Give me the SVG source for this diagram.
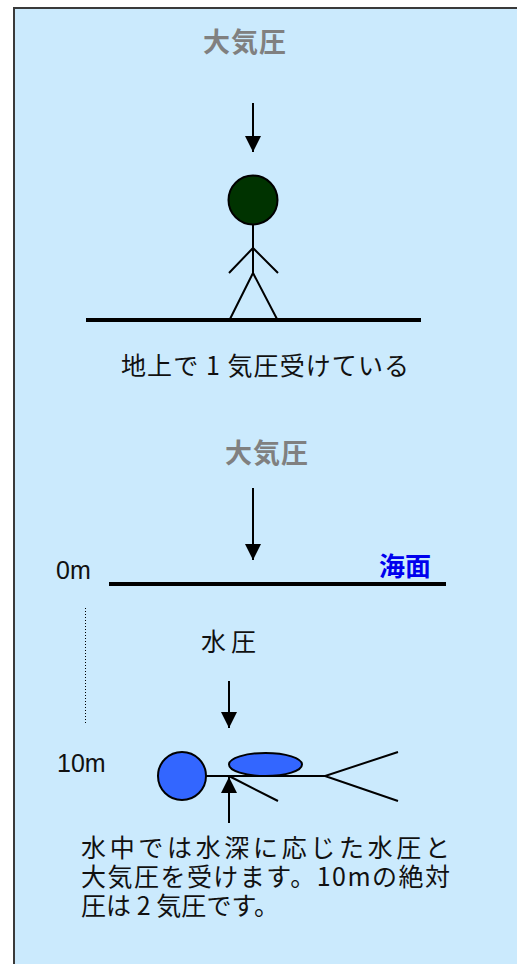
<svg xmlns="http://www.w3.org/2000/svg" width="517" height="964" viewBox="0 0 517 964">
  <defs>
    <marker id="head" viewBox="0 0 16 16" refX="16" refY="8" markerWidth="16" markerHeight="16" markerUnits="userSpaceOnUse" orient="auto">
      <path d="M0,0 L16,8 L0,16 Z" fill="#000"/>
    </marker>
    <style>
      .jp { font-family: "Noto Sans CJK JP", "Liberation Sans", sans-serif; }
      .title { font-size: 27px; font-weight: bold; fill: #808080; letter-spacing: 1px; }
      .body { font-size: 25px; fill: #111; }
      .depth { font-family: "Liberation Sans", "Noto Sans CJK JP", sans-serif; font-size: 25px; fill: #111; }
      .sea { font-size: 26px; font-weight: bold; fill: #0000ee; }
      .arrow { stroke: #000; stroke-width: 2; fill: none; marker-end: url(#head); }
      .limb { stroke: #000; stroke-width: 2; fill: none; }
      .ground { stroke: #000; stroke-width: 4; }
    </style>
  </defs>

  <!-- panel -->
  <rect x="0" y="0" width="517" height="964" fill="#ffffff"/>
  <rect x="14" y="8" width="504" height="970" fill="#cbeafd" stroke="#3a3a3a" stroke-width="2"/>

  <!-- upper scene: person on the ground -->
  <g id="air-label-top">
    <text class="jp title" x="203" y="52">大気圧</text>
  </g>
  <g id="ground">
    <line class="ground" x1="86" y1="320" x2="421" y2="320"/>
  </g>
  <g id="person">
    <circle cx="253" cy="200" r="24.5" fill="#003300" stroke="#000" stroke-width="2"/>
    <path class="limb" d="M253,225 V273 M229,273 L253,248 L278,273 M230,319 L253,273 L277,319"/>
  </g>
  <g id="ground-caption">
    <text class="jp body" x="121" y="375" textLength="288" lengthAdjust="spacing">地上で 1 気圧受けている</text>
  </g>

  <!-- lower scene: diver under the sea surface -->
  <g id="air-label-sea">
    <text class="jp title" x="225" y="463">大気圧</text>
  </g>
  <g id="sea-surface">
    <line class="ground" x1="109" y1="584" x2="446" y2="584"/>
    <text class="jp sea" x="379" y="576">海面</text>
  </g>
  <g id="depth-scale">
    <text class="depth" x="56" y="579">0m</text>
    <line x1="85.5" y1="608" x2="85.5" y2="725" stroke="#000" stroke-width="1" stroke-dasharray="1,2"/>
    <text class="depth" x="57" y="772">10m</text>
  </g>
  <g id="water-label">
    <text class="jp body" x="201" y="651" textLength="55" lengthAdjust="spacing">水圧</text>
  </g>
  <g id="diver">
    <path class="limb" d="M206,776 H325 M229,776 L278,801 M398,752 L325,776 L398,801"/>
    <ellipse cx="265.5" cy="764.5" rx="36.5" ry="11.5" fill="#3366ff" stroke="#000" stroke-width="2"/>
    <circle cx="182" cy="776" r="24" fill="#3366ff" stroke="#000" stroke-width="2"/>
  </g>
  <g id="sea-caption">
    <text class="jp body" x="81" y="857" textLength="369" lengthAdjust="spacing">水中では水深に応じた水圧と</text>
    <text class="jp body" x="81" y="886" textLength="369" lengthAdjust="spacing">大気圧を受けます。10mの絶対</text>
    <text class="jp body" x="81" y="915" textLength="198" lengthAdjust="spacing">圧は 2 気圧です。</text>
  </g>

  <!-- connectors -->
  <g id="connectors">
    <line class="arrow" x1="253" y1="103" x2="253" y2="152"/>
    <line class="arrow" x1="253" y1="488" x2="253" y2="560"/>
    <line class="arrow" x1="229" y1="681" x2="229" y2="728"/>
    <line class="arrow" x1="229" y1="823" x2="229" y2="777"/>
  </g>
</svg>
